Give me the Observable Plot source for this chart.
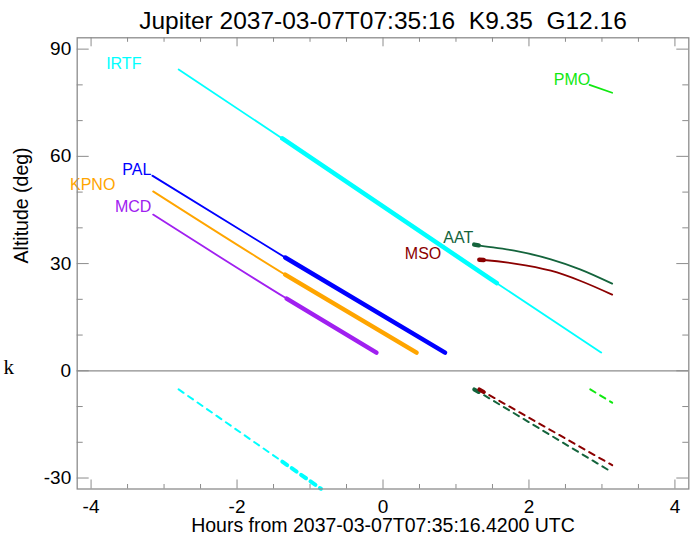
<!DOCTYPE html>
<html><head><meta charset="utf-8">
<script src="https://cdn.jsdelivr.net/npm/d3@7"></script>
<script src="https://cdn.jsdelivr.net/npm/@observablehq/plot@0.6"></script>
<style>
html,body{margin:0;padding:0;background:#fff;}
svg text{white-space:pre;}
</style></head><body><div id="chart"></div>
<script>
// ---- text ----
const titleText = "Jupiter 2037-03-07T07:35:16  K9.35  G12.16";
const xLabel = "Hours from 2037-03-07T07:35:16.4200 UTC";
const yLabel = "Altitude (deg)";
const sideLabel = "k";

// ---- ticks ----
const xMajorTicks = [-4, -2, 0, 2, 4];
const xMinorTicks = [-3.5, -3, -2.5, -1.5, -1, -0.5, 0.5, 1, 1.5, 2.5, 3, 3.5];
const yMajorTicks = [-30, 0, 30, 60, 90];
const yMinorTicks = [-20, -10, 10, 20, 40, 50, 70, 80];

// ---- stations ----
const stations = ["IRTF", "PAL", "KPNO", "MCD", "AAT", "MSO", "PMO"];
const stationColors = ["#00ffff", "#0000ff", "#ffa500", "#a020f0", "#14643c", "#8b0000", "#10e810"];
const labelHours = [-3.31, -3.174, -3.667, -3.174, 1.237, 0.799, 2.84];
const labelAlt = [86.0, 56.3, 51.9, 45.8, 37.3, 32.8, 81.5];

// above-horizon tracks (hours, altitude deg)
const irtfHours = [-2.80, -1.38, 0, 1.56, 2.99];
const irtfAlt   = [84.3, 65.0, 46.0, 24.5, 5.1];
const palHours  = [-3.16, -1.34, 0.85];
const palAlt    = [54.6, 31.7, 5.1];
const kpnoHours = [-3.15, -1.34, 0.46];
const kpnoAlt   = [50.2, 26.9, 5.1];
const mcdHours  = [-3.15, -1.32, -0.09];
const mcdAlt    = [43.7, 20.2, 5.1];
const aatHours  = [1.25, 1.31, 1.8, 2.3, 2.7, 3.14];
const aatAlt    = [35.3, 35.1, 33.6, 31.2, 28.4, 24.4];
const msoHours  = [1.32, 1.38, 1.8, 2.3, 2.7, 3.14];
const msoAlt    = [31.1, 31.0, 30.0, 28.0, 25.2, 21.3];
const pmoHours  = [2.83, 3.14];
const pmoAlt    = [80.0, 77.8];

// dashed (negative) tracks
const irtfDashHours = [-2.80, -1.38, -0.85];
const irtfDashAlt   = [-5.2, -25.4, -33.0];
const aatDashHours  = [1.25, 1.31, 3.14];
const aatDashAlt    = [-5.2, -5.9, -28.4];
const msoDashHours  = [1.32, 1.38, 3.14];
const msoDashAlt    = [-5.2, -5.9, -26.4];
const pmoDashHours  = [2.84, 3.14];
const pmoDashAlt    = [-5.2, -8.9];

// bold sections [from, to] in hours
const boldFrom = {IRTF: -1.38, PAL: -1.34, KPNO: -1.34, MCD: -1.32, AAT: 1.25, MSO: 1.32, PMO: null};
const boldTo   = {IRTF: 1.56,  PAL: 0.85,  KPNO: 0.46,  MCD: -0.09, AAT: 1.31, MSO: 1.38, PMO: null};
const boldDashTo = {IRTF: -0.85, AAT: 1.31, MSO: 1.38};

// ---- build tables ----
function rowsOf(name, hs, as) { return hs.map((h, i) => ({station: name, h, alt: as[i]})); }
const solid = [
  ...rowsOf("IRTF", irtfHours, irtfAlt), ...rowsOf("PAL", palHours, palAlt),
  ...rowsOf("KPNO", kpnoHours, kpnoAlt), ...rowsOf("MCD", mcdHours, mcdAlt),
  ...rowsOf("AAT", aatHours, aatAlt), ...rowsOf("MSO", msoHours, msoAlt),
  ...rowsOf("PMO", pmoHours, pmoAlt)
];
const dashed = [
  ...rowsOf("IRTF", irtfDashHours, irtfDashAlt), ...rowsOf("AAT", aatDashHours, aatDashAlt),
  ...rowsOf("MSO", msoDashHours, msoDashAlt), ...rowsOf("PMO", pmoDashHours, pmoDashAlt)
];
const eps = 1e-9;
const solidBold = solid.filter(d => boldFrom[d.station] != null && d.h >= boldFrom[d.station] - eps && d.h <= boldTo[d.station] + eps);
const dashedBold = dashed.filter(d => boldDashTo[d.station] != null && d.h >= boldFrom[d.station] - eps && d.h <= boldDashTo[d.station] + eps);
const labels = stations.map((s, i) => ({station: s, h: labelHours[i], alt: labelAlt[i]}));

// ---- layout ----
const W = 697, H = 539;
const mL = 76.7, mR = 8.7, mT = 37.3, mB = 50.5;
const plotW = W - mL - mR, plotH = H - mT - mB;
const gray = "#8c8c8c";
const font = "'Liberation Sans', Arial, Helvetica, sans-serif";

const chart = Plot.plot({
  width: W, height: H,
  marginLeft: mL, marginRight: mR, marginTop: mT, marginBottom: mB,
  style: {fontFamily: font, background: "white", color: "black"},
  x: {domain: [-4.19, 4.19], axis: null},
  y: {domain: [-33.07, 93.17], axis: null},
  color: {domain: stations, range: stationColors},
  marks: [
    Plot.ruleY([0], {stroke: gray, strokeWidth: 1.2}),
    // thin tracks
    Plot.line(solid, {x: "h", y: "alt", z: "station", stroke: "station", strokeWidth: 1.8, curve: "monotone-x"}),
    Plot.line(dashed, {x: "h", y: "alt", z: "station", stroke: "station", strokeWidth: 2, strokeDasharray: "6,5.5"}),
    // bold sections
    Plot.line(solidBold, {x: "h", y: "alt", z: "station", stroke: "station", strokeWidth: 4.5, curve: "monotone-x"}),
    Plot.line(dashedBold, {x: "h", y: "alt", z: "station", stroke: "station", strokeWidth: 4, strokeDasharray: "6,5.5"}),
    // station labels
    Plot.text(labels, {x: "h", y: "alt", text: "station", fill: "station", textAnchor: "end", lineAnchor: "middle", fontSize: 16}),
    // frame and inward ticks on all sides
    Plot.frame({stroke: gray, strokeWidth: 1.3}),
    Plot.tickX(xMajorTicks, {x: d => d, stroke: gray, insetTop: plotH - 9}),
    Plot.tickX(xMinorTicks, {x: d => d, stroke: gray, insetTop: plotH - 4.5}),
    Plot.tickX(xMajorTicks, {x: d => d, stroke: gray, insetBottom: plotH - 9}),
    Plot.tickX(xMinorTicks, {x: d => d, stroke: gray, insetBottom: plotH - 4.5}),
    Plot.tickY(yMajorTicks, {y: d => d, stroke: gray, insetRight: plotW - 12}),
    Plot.tickY(yMinorTicks, {y: d => d, stroke: gray, insetRight: plotW - 6}),
    Plot.tickY(yMajorTicks, {y: d => d, stroke: gray, insetLeft: plotW - 12}),
    Plot.tickY(yMinorTicks, {y: d => d, stroke: gray, insetLeft: plotW - 6}),
    // tick labels
    Plot.axisX(xMajorTicks, {tickSize: 0, tickPadding: 10, fontSize: 19, label: null, tickFormat: d => String(d)}),
    Plot.axisY(yMajorTicks, {tickSize: 0, tickPadding: 6, fontSize: 19, label: null, tickFormat: d => String(d)}),
    // titles
    Plot.text([titleText], {frameAnchor: "top", text: d => d, lineAnchor: "bottom", dy: -9, fontSize: 24.5}),
    Plot.text([xLabel], {frameAnchor: "bottom", text: d => d, lineAnchor: "bottom", dy: 43, fontSize: 19.5}),
    Plot.text([yLabel], {frameAnchor: "left", text: d => d, rotate: -90, lineAnchor: "middle", dx: -55.2, fontSize: 19.5}),
    Plot.text([0], {y: d => d, frameAnchor: "left", text: () => sideLabel, textAnchor: "start", lineAnchor: "bottom", dx: 3 - mL, dy: 2.7, fontSize: 21, fontFamily: "'Liberation Serif', 'Times New Roman', serif"})
  ]
});
document.getElementById("chart").appendChild(chart);
</script></body></html>
